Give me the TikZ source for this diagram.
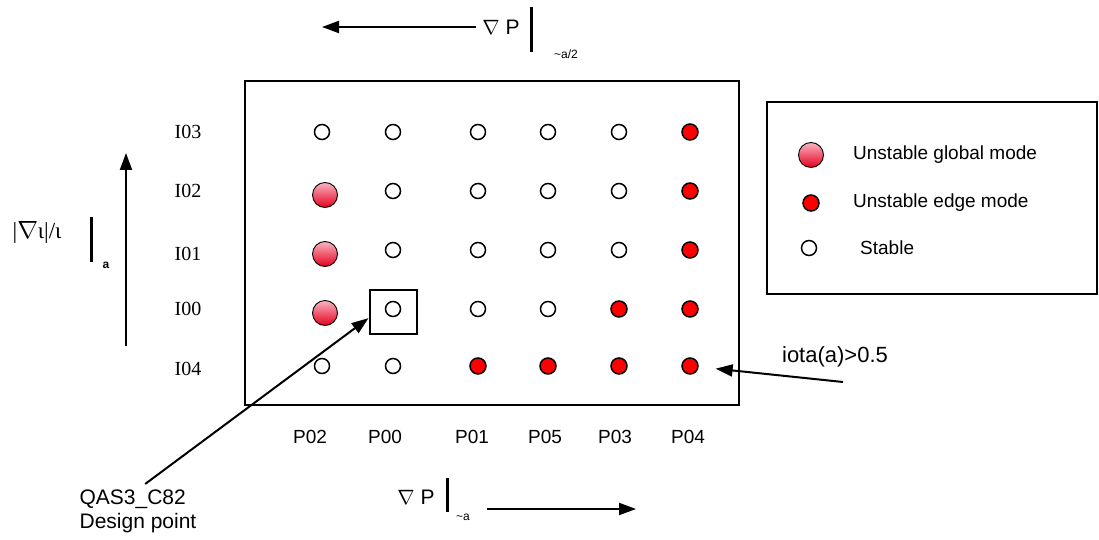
\documentclass[tikz,border=0pt]{standalone}
\usepackage{fontspec}
\setmainfont{Liberation Sans}
\newfontfamily\tms{Liberation Serif}
\usetikzlibrary{arrows.meta}
\definecolor{gtop}{HTML}{F9B4C2}
\definecolor{gbot}{HTML}{E5001C}

\tikzset{
  md-s/.style={circle,draw,line width=1.5pt,fill=white,minimum size=15pt,inner sep=0pt},
  md-e/.style={circle,draw,line width=1.5pt,fill=red,minimum size=16pt,inner sep=0pt},
  md-g/.style={circle,draw,line width=0.9pt,top color=gtop,bottom color=gbot,minimum size=25pt,inner sep=0pt,xshift=3pt,yshift=-4pt},
  lbl/.style={font=\fontsize{19}{22}\selectfont,inner sep=0pt},
  rowlbl/.style={font=\tms\fontsize{20}{23}\selectfont,inner sep=0pt},
  sub/.style={font=\fontsize{12}{14}\selectfont,inner sep=0pt},
  evalbar/.style={line width=3pt},
  arr/.style={line width=2pt,-{Triangle[length=17pt,width=12pt]}},
}

\begin{document}
\begin{tikzpicture}[x=1pt,y=-1pt]
  \useasboundingbox (0,0) rectangle (1099,540);
  % scan box
  \draw[line width=2pt] (245,81) rectangle (739,405);
  % legend box
  \draw[line width=2pt] (767,102) rectangle (1097,294);

  % grid of cases: s = stable, e = edge mode, g = global mode
  \foreach \y/\sa/\sb/\sc/\sd/\se/\sf [count=\j] in
    {132/s/s/s/s/s/e, 191/g/s/s/s/s/e, 250/g/s/s/s/s/e, 309/g/s/s/s/e/e, 366/s/s/e/e/e/e}
  {
    \foreach \x/\st [count=\i] in {322/\sa,393/\sb,478/\sc,548/\sd,619/\se,690/\sf}
      \node[md-\st] (c-\i-\j) at (\x,\y) {};
  }

  % row and column names
  \foreach \y/\t in {132/I03,191/I02,254/I01,309/I00,369/I04}
    \node[rowlbl] (r-\t) at (188,\y) {\t};
  \foreach \x/\t in {310/P02,385/P00,472/P01,545/P05,615/P03,688/P04}
    \node[lbl] (p-\t) at (\x,437) {\t};

  % design point
  \node[draw,line width=2pt,minimum width=47pt,minimum height=44pt] (dbox) at (393,312) {};
  \node[lbl,align=left,font=\fontsize{21}{24}\selectfont] (dplabel) at (138,511) {QAS3\_C82\\Design point};
  \draw[arr,shorten <=9pt] (dplabel.north) -- (dbox.194);

  % edge of iota
  \node[lbl,font=\fontsize{22}{25}\selectfont] (iota) at (835,357) {iota(a)>0.5};
  \coordinate (iotafoot) at (843,382);
  \draw[arr,shorten >=17pt] (iotafoot) -- (c-6-5);

  % pressure gradient at a/2
  \node[lbl,font=\fontsize{21}{24}\selectfont] (tgrad) at (501,27) {$\nabla$ P};
  \coordinate (ttip) at (322,27);
  \draw[arr,shorten <=6pt] (tgrad.west) -- (ttip);
  \draw[evalbar] (531,7) -- (531,52);
  \node[sub] (tsub) at (566,54) {\textasciitilde a/2};

  % pressure gradient at a
  \node[lbl,font=\fontsize{21}{24}\selectfont] (bgrad) at (416,497) {$\nabla$ P};
  \coordinate (bfoot) at (487,509);
  \coordinate (btip) at (636,509);
  \draw[arr] (bfoot) -- (btip);
  \draw[evalbar] (447,478) -- (447,512);
  \node[sub] (bsub) at (463,517) {\textasciitilde a};

  % shear
  \node[rowlbl,font=\tms\fontsize{23}{26}\selectfont] (shear) at (37,232) {|$\nabla$ι|/ι};
  \draw[evalbar] (91,217) -- (91,262);
  \node[sub,font=\bfseries\fontsize{12}{14}\selectfont] (ssub) at (106,265) {a};
  \coordinate (sfoot) at (126,346);
  \coordinate (stip) at (126,153);
  \draw[arr] (sfoot) -- (stip);

  % legend
  \node[md-g,xshift=-3pt,yshift=4pt] (lg-g) at (811,155) {};
  \node[md-e] (lg-e) at (811,203) {};
  \node[md-s] (lg-s) at (809,248) {};
  \node[lbl,anchor=west] (lt-g) at (853,155) {Unstable global mode};
  \node[lbl,anchor=west] (lt-e) at (853,203) {Unstable edge mode};
  \node[lbl,anchor=west] (lt-s) at (860,248) {Stable};
\end{tikzpicture}
\end{document}
